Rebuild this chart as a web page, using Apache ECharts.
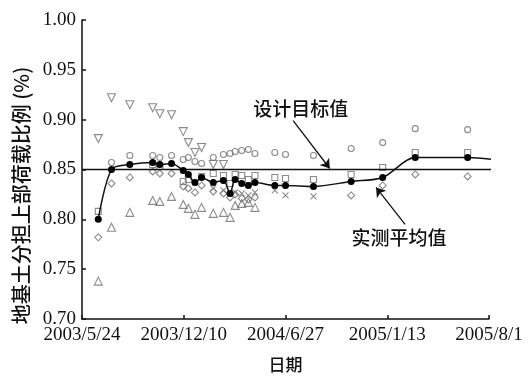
<!DOCTYPE html>
<html>
<head>
<meta charset="utf-8">
<script src="https://cdn.jsdelivr.net/npm/echarts@6/dist/echarts.min.js"></script>
<style>
  html, body { margin: 0; padding: 0; background: #fff; }
  #chart { width: 529px; height: 378px; }
</style>
</head>
<body>
<div id="chart"></div>
<script>
// 测试日期
const dates = ['2003-06-25', '2003-07-21', '2003-08-26', '2003-10-10', '2003-10-24', '2003-11-16',
  '2003-12-09', '2003-12-19', '2004-01-01', '2004-01-14', '2004-02-06', '2004-02-26',
  '2004-03-10', '2004-03-20', '2004-04-02', '2004-04-15', '2004-04-28', '2004-06-06',
  '2004-06-27', '2004-08-21', '2004-11-03', '2005-01-04', '2005-03-09', '2005-06-20'];
// 实测平均值
const meanVals = [0.800, 0.850, 0.855, 0.857, 0.855, 0.856, 0.849, 0.845, 0.837, 0.842, 0.837, 0.839,
  0.826, 0.840, 0.836, 0.834, 0.837, 0.834, 0.834, 0.833, 0.838, 0.842, 0.862, 0.862];
const meanEndDate = '2005-08-28';
const meanEndVal = 0.859;
// 各测点
const downTri = [0.881, 0.922, 0.915, 0.912, 0.906, 0.905, 0.888, 0.877, 0.867, 0.872, 0.855, 0.855,
  null, null, null, null, null, null, null, null, null, null, null, null];
const upTri = [0.738, 0.792, 0.807, 0.819, 0.818, 0.823, 0.815, 0.811, 0.805, 0.812, 0.806, 0.807,
  0.802, 0.814, 0.816, 0.817, 0.812, null, null, null, null, null, null, null];
const circles = [null, 0.857, 0.864, 0.864, 0.862, 0.864, 0.860, 0.862, 0.858, 0.856, 0.862, 0.865,
  0.866, 0.868, 0.869, 0.870, 0.866, 0.867, 0.865, 0.864, 0.871, 0.877, 0.891, 0.890];
const diamonds = [0.782, 0.836, 0.842, 0.848, 0.846, 0.846, 0.833, 0.831, 0.827, 0.834, 0.828, 0.826,
  0.822, 0.825, 0.821, 0.820, 0.822, null, null, null, 0.824, 0.834, 0.845, 0.843];
const squares = [0.808, null, null, 0.855, 0.853, null, 0.838, 0.840, null, 0.843, 0.846, 0.844,
  0.836, 0.845, 0.844, 0.840, 0.844, 0.842, 0.841, 0.840, 0.845, 0.852, 0.867, 0.867];
const crosses = [null, null, null, null, null, null, null, null, null, null, 0.831, 0.829,
  null, 0.827, 0.826, 0.824, 0.827, 0.829, 0.824, 0.823, null, null, null, null];
// 设计目标值
const targetVal = 0.85;
// 坐标轴
const startDate = '2003-05-24';
const xTickLabels = ['2003/5/24', '2003/12/10', '2004/6/27', '2005/1/13', '2005/8/1'];
const xStepDays = 200;
const yMin = 0.70, yMax = 1.00, yStep = 0.05;

const base = Date.parse(startDate);
function toDay(d) {
  return (Date.parse(d) - base) / 86400000;
}
function pairs(vals) {
  const out = [];
  vals.forEach((v, i) => {
    if (v !== null) out.push([toDay(dates[i]), v]);
  });
  return out;
}

const chart = echarts.init(document.getElementById('chart'));
const serif = '"Liberation Serif", "DejaVu Serif", serif';
const cjk = '"Noto Sans CJK SC", sans-serif';
const markColor = '#6e6e6e';

function scatter(name, data, symbol, size, rotate) {
  return {
    name: name,
    type: 'scatter',
    data: pairs(data),
    symbol: symbol,
    symbolSize: size,
    symbolRotate: rotate || 0,
    itemStyle: {
      color: 'rgba(0,0,0,0)',
      borderColor: markColor,
      borderWidth: 1.1,
    },
    z: 2,
  };
}

const meanData = pairs(meanVals);
meanData.push({ value: [toDay(meanEndDate), meanEndVal], symbol: 'none' });

const option = {
  animation: false,
  grid: {
    left: 82,
    right: 40,
    top: 20,
    bottom: 54,
  },
  xAxis: {
    type: 'value',
    min: 0,
    max: xStepDays * (xTickLabels.length - 1),
    interval: xStepDays,
    name: '日期',
    nameLocation: 'middle',
    nameGap: 37,
    nameTextStyle: {
      fontFamily: cjk,
      fontSize: 17,
      fontWeight: 500,
      color: '#111',
    },
    axisLine: {
      lineStyle: { color: '#111', width: 1.5 },
    },
    axisTick: {
      inside: true,
      length: 4,
      lineStyle: { color: '#111', width: 1.5 },
    },
    axisLabel: {
      fontFamily: serif,
      fontSize: 19,
      color: '#111',
      margin: 7,
      showMinLabel: true,
      showMaxLabel: true,
      formatter: (v) => xTickLabels[Math.round(v / xStepDays)],
    },
    splitLine: { show: false },
  },
  yAxis: {
    type: 'value',
    min: yMin,
    max: yMax,
    interval: yStep,
    name: '地基土分担上部荷载比例 (%)',
    nameLocation: 'middle',
    nameGap: 50,
    nameTextStyle: {
      fontFamily: cjk,
      fontSize: 20,
      fontWeight: 500,
      color: '#111',
      padding: [0, 52, 0, 0],
    },
    axisLine: {
      lineStyle: { color: '#111', width: 1.5 },
    },
    axisTick: {
      inside: true,
      length: 4,
      lineStyle: { color: '#111', width: 1.5 },
    },
    axisLabel: {
      fontFamily: serif,
      fontSize: 19,
      color: '#111',
      margin: 6,
      formatter: (v) => v.toFixed(2),
    },
    splitLine: { show: false },
  },
  series: [
    scatter('下三角', downTri, 'triangle', 8, 180),
    scatter('上三角', upTri, 'triangle', 8),
    scatter('圆', circles, 'circle', 6),
    scatter('菱形', diamonds, 'diamond', 7),
    scatter('方形', squares, 'rect', 6),
    scatter('叉', crosses, 'path://M0,0L10,10M10,0L0,10', 6),
    {
      name: '设计目标值',
      type: 'line',
      clip: false,
      data: [[0, targetVal], [toDay(meanEndDate), targetVal]],
      symbol: 'none',
      lineStyle: { color: '#111', width: 1.5 },
      z: 3,
      markLine: {
        silent: true,
        symbol: ['none', 'arrow'],
        symbolSize: 9,
        lineStyle: { color: '#111', width: 1.3, type: 'solid' },
        label: { show: false },
        data: [
          [{ coord: [toDay('2004-07-12'), 0.899] }, { coord: [toDay('2004-09-22'), 0.851] }],
          [{ coord: [toDay('2005-02-17'), 0.795] }, { coord: [toDay('2004-12-22'), 0.832] }],
        ],
      },
      markPoint: {
        silent: true,
        symbol: 'circle',
        symbolSize: 1,
        itemStyle: { color: 'rgba(0,0,0,0)' },
        label: {
          show: true,
          position: 'inside',
          fontFamily: cjk,
          fontSize: 19,
          fontWeight: 500,
          color: '#111',
          formatter: (p) => p.name,
        },
        data: [
          { name: '设计目标值', coord: [toDay('2004-07-27'), 0.911] },
          { name: '实测平均值', coord: [toDay('2005-02-05'), 0.781] },
        ],
      },
    },
    {
      name: '实测平均值',
      type: 'line',
      clip: false,
      data: meanData,
      smooth: 0.3,
      symbol: 'circle',
      symbolSize: 7,
      itemStyle: { color: '#000' },
      lineStyle: { color: '#111', width: 1.5 },
      z: 4,
    },
  ],
};

chart.setOption(option);
</script>
</body>
</html>
